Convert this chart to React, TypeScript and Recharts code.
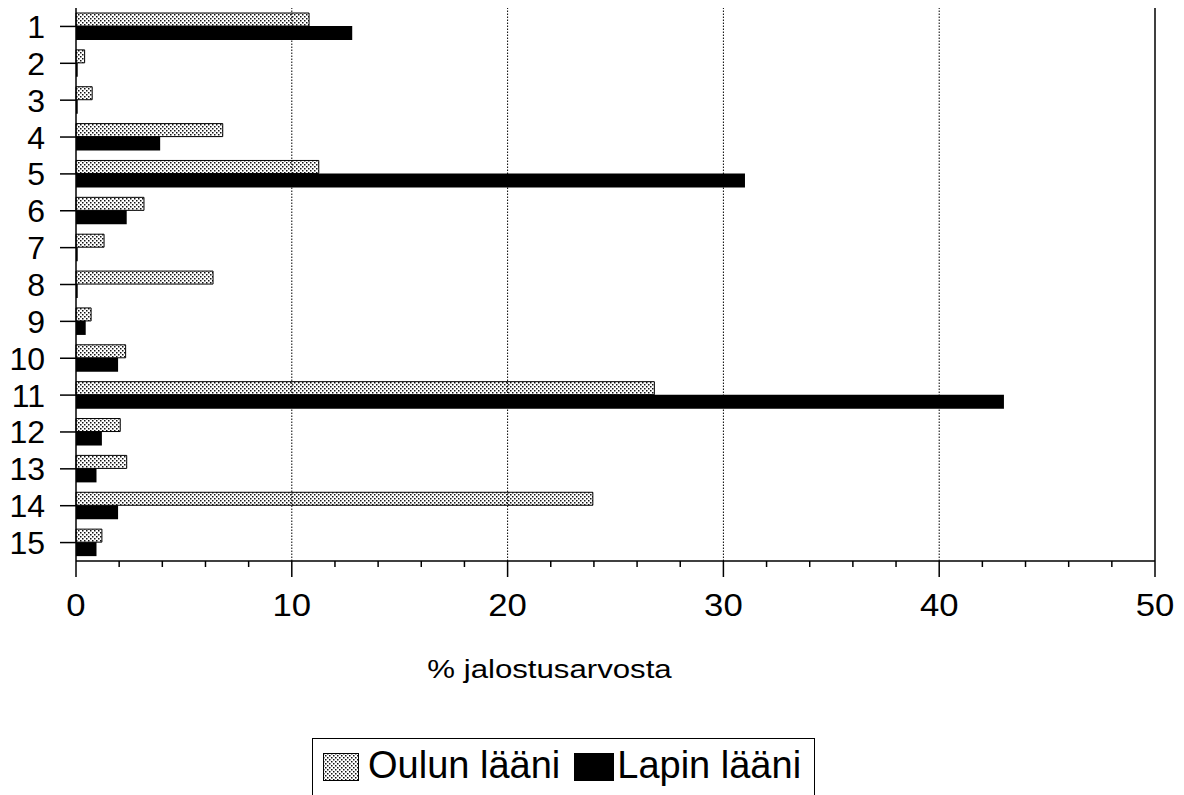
import React from 'react';
import { BarChart, Bar, XAxis, YAxis, ReferenceLine, Legend } from 'recharts';

const categories = ['1', '2', '3', '4', '5', '6', '7', '8', '9', '10', '11', '12', '13', '14', '15'];
const oulunValues = [10.8, 0.4, 0.75, 6.8, 11.25, 3.15, 1.3, 6.35, 0.7, 2.3, 26.8, 2.05, 2.35, 23.95, 1.2];
const lapinValues = [12.8, 0.08, 0.08, 3.9, 31.0, 2.35, 0.08, 0.08, 0.45, 1.95, 43.0, 1.2, 0.95, 1.95, 0.95];
const xTicks = [0, 2, 4, 6, 8, 10, 12, 14, 16, 18, 20, 22, 24, 26, 28, 30, 32, 34, 36, 38, 40, 42, 44, 46, 48, 50];
const gridValues = [10, 20, 30, 40];
const seriesNames = ['Oulun lääni', 'Lapin lääni'];
const axisTitle = '% jalostusarvosta';

const data = categories.map((c, i) => ({ cat: c, oulun: oulunValues[i], lapin: lapinValues[i] }));

const FONT = '"Liberation Sans", Arial, Helvetica, sans-serif';

const XTick = (props: any) => {
  const { x, y, payload } = props;
  const v = payload.value;
  const major = v % 10 === 0;
  return (
    <g>
      <line x1={x} x2={x} y1={y} y2={y + (major ? 16 : 6)} stroke="#000" strokeWidth={1.5} />
      {major && (
        <text
          transform={`translate(${x},${y + 55}) scale(1.12,1)`}
          x={0}
          y={0}
          textAnchor="middle"
          fontSize={31}
          fontFamily={FONT}
          fill="#000"
        >
          {v}
        </text>
      )}
    </g>
  );
};

const YTick = (props: any) => {
  const { x, y, payload } = props;
  return (
    <g>
      <line x1={x - 16} x2={x} y1={y} y2={y} stroke="#000" strokeWidth={1.5} />
      <text x={45} y={y} dy="0.36em" textAnchor="end" fontSize={32} fontFamily={FONT} fill="#000">
        {payload.value}
      </text>
    </g>
  );
};

const AxisTitle = (props: any) => {
  const { viewBox } = props;
  const cx = viewBox.x + viewBox.width / 2 - 66;
  return (
    <text
      transform={`translate(${cx},${viewBox.y + 117}) scale(1.2,1)`}
      x={0}
      y={0}
      textAnchor="middle"
      fontSize={26}
      fontFamily={FONT}
      fill="#000"
    >
      {axisTitle}
    </text>
  );
};

const LegendContent = () => (
  <div
    style={{
      border: '1.5px solid #000',
      height: 60,
      boxSizing: 'border-box',
      display: 'flex',
      alignItems: 'flex-start',
      paddingTop: 7,
      paddingLeft: 10,
      fontFamily: FONT,
      fontSize: 38,
      lineHeight: '38px',
      color: '#000',
      background: '#fff',
    }}
  >
    <svg width={36} height={28} style={{ marginTop: 7 }}>
      <rect x={0.5} y={0.5} width={35} height={27} fill="url(#dots)" stroke="#000" strokeWidth={1} />
    </svg>
    <span style={{ marginLeft: 9, whiteSpace: 'nowrap' }}>{seriesNames[0]}</span>
    <svg width={40} height={28} style={{ marginTop: 7, marginLeft: 14 }}>
      <rect x={0} y={0} width={40} height={28} fill="#000" />
    </svg>
    <span style={{ marginLeft: 3, whiteSpace: 'nowrap' }}>{seriesNames[1]}</span>
  </div>
);

export default function App() {
  return (
    <div style={{ position: 'absolute', left: 0, top: 0, width: 1184, height: 795, background: '#fff' }}>
      <svg width={0} height={0} style={{ position: 'absolute' }}>
        <defs>
          <pattern id="dots" width={4} height={4} patternUnits="userSpaceOnUse">
            <rect width={4} height={4} fill="#fff" />
            <rect x={0} y={0} width={1.5} height={1.5} fill="#111" />
            <rect x={2} y={2} width={1.5} height={1.5} fill="#111" />
          </pattern>
        </defs>
      </svg>
      <BarChart
        width={1184}
        height={795}
        data={data}
        layout="vertical"
        margin={{ top: 8, right: 29, left: 0, bottom: 0 }}
        barGap={0}
      >
        <XAxis
          type="number"
          domain={[0, 50]}
          ticks={xTicks}
          interval={0}
          height={234}
          tickSize={0}
          tickMargin={0}
          tickLine={false}
          tick={<XTick />}
          axisLine={{ stroke: '#000', strokeWidth: 1.5 }}
          label={<AxisTitle />}
        />
        <XAxis
          xAxisId="top"
          orientation="top"
          type="number"
          domain={[0, 50]}
          height={0}
          tick={false}
          tickLine={false}
          axisLine={{ stroke: '#333', strokeWidth: 1.5 }}
        />
        <YAxis
          type="category"
          dataKey="cat"
          width={76}
          interval={0}
          tickSize={0}
          tickMargin={0}
          tickLine={false}
          tick={<YTick />}
          axisLine={{ stroke: '#000', strokeWidth: 1.5 }}
        />
        {gridValues.map((g) => (
          <ReferenceLine key={g} x={g} stroke="#000" strokeWidth={1} strokeDasharray="1.5 1.5" />
        ))}
        <ReferenceLine x={50} stroke="#000" strokeWidth={1.5} />
        <Bar dataKey="oulun" name={seriesNames[0]} barSize={13} fill="url(#dots)" stroke="#000" strokeWidth={1} isAnimationActive={false} />
        <Bar dataKey="lapin" name={seriesNames[1]} barSize={14} fill="#000" isAnimationActive={false} />
        <Legend
          layout="vertical"
          align="center"
          verticalAlign="middle"
          content={<LegendContent />}
          wrapperStyle={{ left: 312, top: 738, width: 503, height: 60 }}
        />
      </BarChart>
    </div>
  );
}
